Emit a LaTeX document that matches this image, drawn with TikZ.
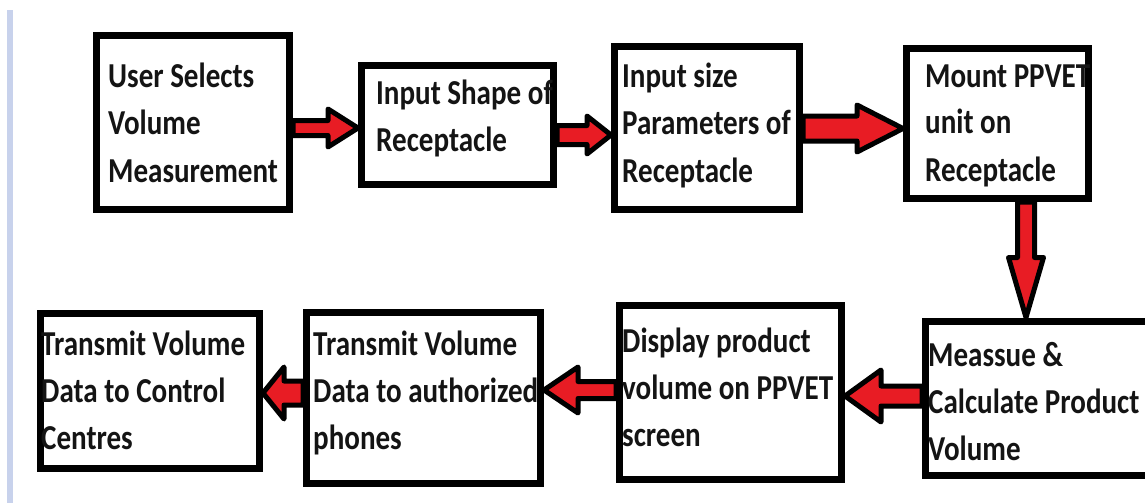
\documentclass[tikz,border=0pt]{standalone}
\usepackage{fontspec}
\setmainfont{Carlito}[FakeStretch=0.83]
\usetikzlibrary{calc}
\definecolor{arrowred}{RGB}{232,28,36}
\definecolor{barblue}{RGB}{200,210,236}

% right-pointing block arrow: #1 source, #2 target, #3 centre y (px), #4 shaft half, #5 head half, #6 head length
\newcommand\rblock[6]{%
  \draw[barrow] let \p1=(#1.east), \p2=(#2.west |- 0,#3) in
    (\x1,\y2+#4pt) -- (\x2-#6pt,\y2+#4pt) -- (\x2-#6pt,\y2+#5pt) -- (\p2)
    -- (\x2-#6pt,\y2-#5pt) -- (\x2-#6pt,\y2-#4pt) -- (\x1,\y2-#4pt) -- cycle;}
% left-pointing block arrow
\newcommand\lblock[6]{%
  \draw[barrow] let \p1=(#1.west), \p2=(#2.east |- 0,#3) in
    (\x1,\y2+#4pt) -- (\x2+#6pt,\y2+#4pt) -- (\x2+#6pt,\y2+#5pt) -- (\p2)
    -- (\x2+#6pt,\y2-#5pt) -- (\x2+#6pt,\y2-#4pt) -- (\x1,\y2-#4pt) -- cycle;}
% down-pointing block arrow: #3 centre x (px)
\newcommand\dblock[6]{%
  \draw[barrow] let \p1=(#1.south), \p2=(#2.north -| #3,0) in
    (\x2-#4pt,\y1) -- (\x2-#4pt,\y2+#6pt) -- (\x2-#5pt,\y2+#6pt) -- (\p2)
    -- (\x2+#5pt,\y2+#6pt) -- (\x2+#4pt,\y2+#6pt) -- (\x2+#4pt,\y1) -- cycle;}
\newcommand\lines[1]{\begin{tabular}[t]{@{}l@{}}#1\end{tabular}}

\begin{document}
\begin{tikzpicture}[x=1pt,y=-1pt,
  box/.style={draw=black, line width=7pt, rectangle, inner sep=0pt},
  txt/.style={anchor=base west, inner sep=0pt,
    font=\fontsize{35}{47}\selectfont\bfseries, text=black!92},
  barrow/.style={draw=black, fill=arrowred, line width=5pt, line join=round}]

\useasboundingbox (0,0) rectangle (1145,503);
\clip (0,0) rectangle (1145,503);
\fill[white] (0,0) rectangle (1145,503);
\fill[barblue] (7,10) rectangle (13,503);

% boxes (outer extents minus line width)
\node[box, minimum width=193pt, minimum height=174pt] (b1) at (193,122.5) {};
\node[box, minimum width=192pt, minimum height=119pt] (b2) at (457.5,125) {};
\node[box, minimum width=185pt, minimum height=163pt] (b3) at (707,128) {};
\node[box, minimum width=182pt, minimum height=150pt] (b4) at (997.5,123.5) {};
\node[box, minimum width=236pt, minimum height=154pt] (b5) at (1043.5,398) {};
\node[box, minimum width=222pt, minimum height=174pt] (b6) at (730.5,392.5) {};
\node[box, minimum width=234pt, minimum height=171pt] (b7) at (423.5,398) {};
\node[box, minimum width=219pt, minimum height=155pt] (b8) at (150,391) {};

% texts
\node[txt] (t1) at (108,88) {\lines{User Selects\\Volume\\Measurement}};
\node[txt] (t2) at (376,104) {\lines{Input Shape of\\Receptacle}};
\node[txt] (t3) at (622,88) {\lines{Input size\\Parameters of\\Receptacle}};
\node[txt] (t4) at (925,87) {\lines{Mount PPVET\\unit on\\Receptacle}};
\node[txt] (t5) at (928,366) {\lines{Meassue \&\\Calculate Product\\Volume}};
\node[txt] (t6) at (622,352) {\lines{Display product\\volume on PPVET\\screen}};
\node[txt] (t7) at (313,355) {\lines{Transmit Volume\\Data to authorized\\phones}};
\node[txt] (t8) at (41,355) {\lines{Transmit Volume\\Data to Control\\Centres}};

% connectors
\rblock{b1}{b2}{128}{7.5}{19}{30}
\rblock{b2}{b3}{135}{9.5}{19}{24}
\rblock{b3}{b4}{128.5}{12.5}{23.5}{46}
\dblock{b4}{b5}{1026}{8.5}{17.5}{60}
\lblock{b5}{b6}{396}{10}{26}{36}
\lblock{b6}{b7}{390}{8.5}{23}{34}
\lblock{b7}{b8}{393}{12}{26}{21}
\end{tikzpicture}
\end{document}
